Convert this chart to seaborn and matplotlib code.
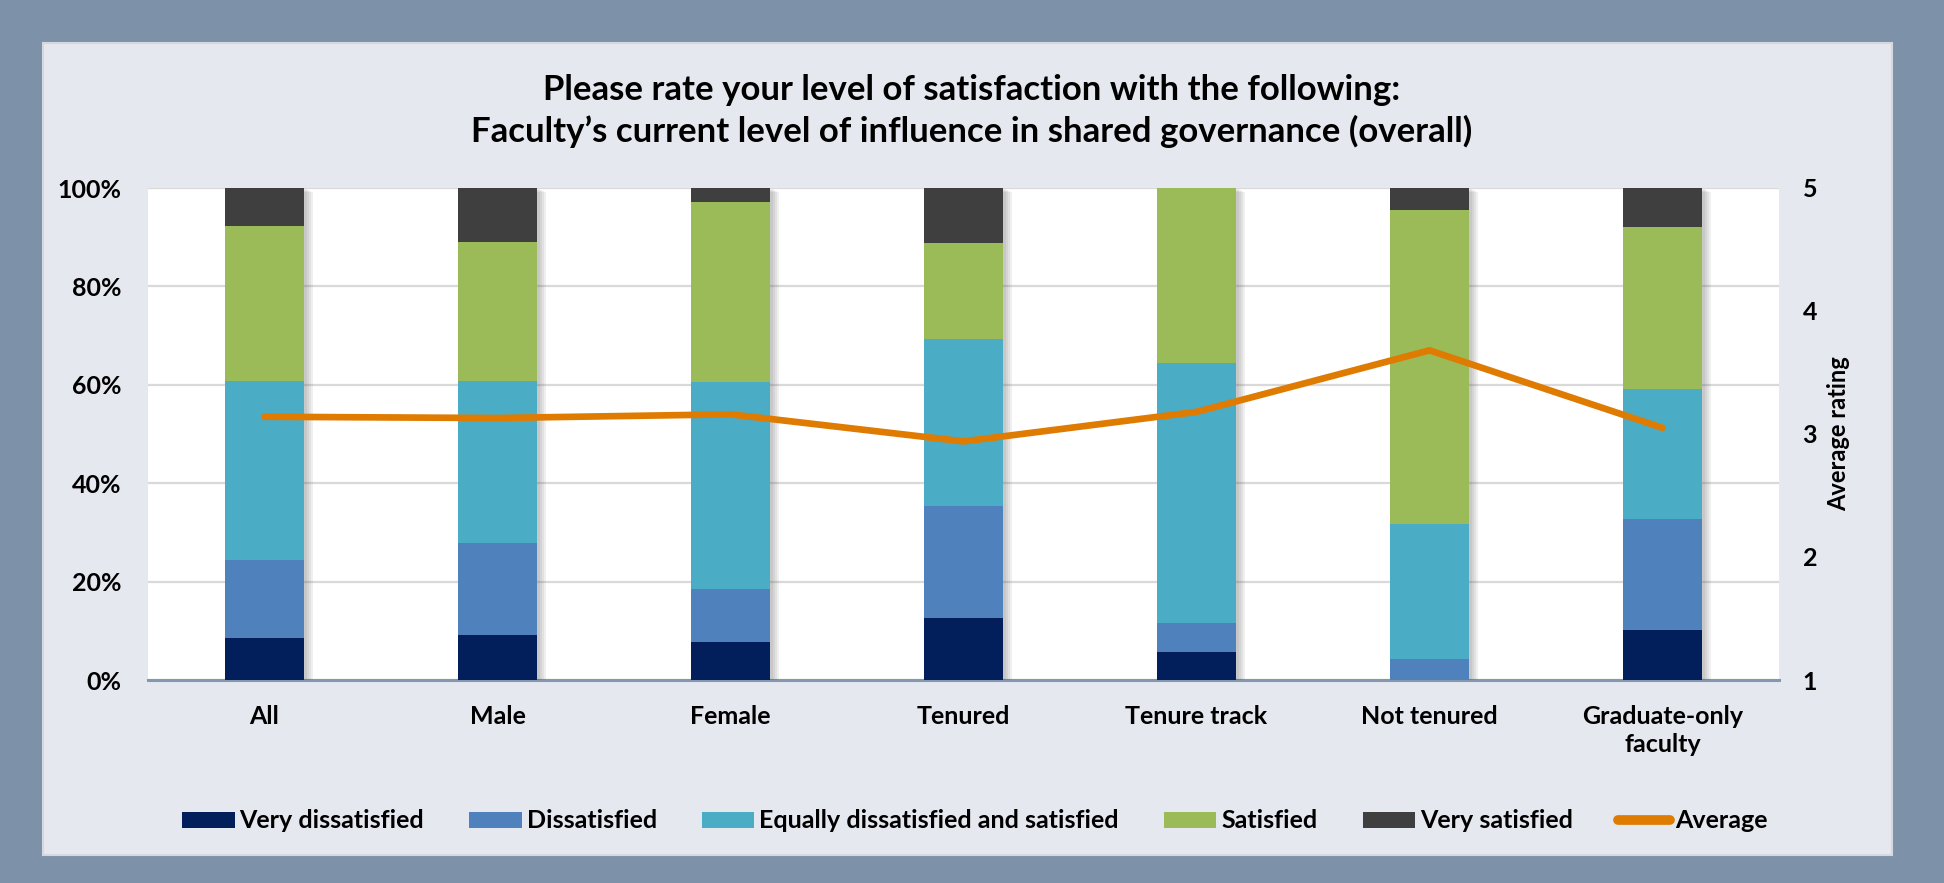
import numpy as np
import pandas as pd
import matplotlib
matplotlib.use("Agg")
import matplotlib.pyplot as plt
import matplotlib.patheffects as pe
from matplotlib.patches import Rectangle, Patch
from matplotlib.lines import Line2D
import seaborn as sns

categories = ["All", "Male", "Female", "Tenured", "Tenure track", "Not tenured", "Graduate-only\nfaculty"]
very_dissatisfied = [8.5, 9.1, 7.8, 12.7, 5.6, 0.0, 10.2]
dissatisfied = [15.8, 18.8, 10.6, 22.6, 5.9, 4.3, 22.5]
equally = [36.4, 32.9, 42.1, 34.0, 53.0, 27.4, 26.4]
satisfied = [31.5, 28.3, 36.7, 19.5, 35.5, 63.8, 33.0]
very_satisfied = [7.8, 10.9, 2.8, 11.2, 0.0, 4.5, 7.9]
average = [3.14, 3.13, 3.16, 2.94, 3.18, 3.68, 3.05]

series_names = ["Very dissatisfied", "Dissatisfied", "Equally dissatisfied and satisfied",
                "Satisfied", "Very satisfied"]
series_vals = [very_dissatisfied, dissatisfied, equally, satisfied, very_satisfied]
colors = ["#021f5c", "#4f81bd", "#4bacc6", "#9bbb59", "#3f3f3f"]
line_color = "#df7b00"

sns.set_theme(style="white")
plt.rcParams["font.family"] = ["Lato", "DejaVu Sans"]
plt.rcParams["font.weight"] = "bold"
plt.rcParams["text.color"] = "black"
plt.rcParams["xtick.color"] = "black"
plt.rcParams["ytick.color"] = "black"
plt.rcParams["axes.labelcolor"] = "black"

fig = plt.figure(figsize=(19.44, 8.83), dpi=100)
fig.patch.set_facecolor("#7d92a9")
W, H = 1944, 883
fig.patches.append(Rectangle((43 / W, 1 - 855 / H), (1892 - 43) / W, (855 - 43) / H,
                             transform=fig.transFigure, facecolor="#e5e8ee",
                             edgecolor="#d5d9df", lw=1.5, zorder=-5))

ax = fig.add_axes([148 / W, 1 - 680 / H, (1779 - 148) / W, (680 - 188) / H])
ax.set_facecolor("white")

cum = np.cumsum(np.array(series_vals), axis=0)
df = pd.DataFrame({"cat": categories})
shadow = [pe.SimplePatchShadow(offset=(d, -d * 0.4), shadow_rgbFace="#555555", alpha=0.09)
          for d in (7, 5.5, 4, 2.5)] + [pe.Normal()]
for i in range(len(series_names) - 1, -1, -1):
    df["val"] = cum[i]
    sns.barplot(data=df, x="cat", y="val", color=colors[i], width=0.335, ax=ax,
                saturation=1, linewidth=0, order=categories, zorder=3)
    if i == len(series_names) - 1:
        for p in ax.patches:
            p.set_path_effects(shadow)

ax.set_ylim(0, 100)
ax.set_xlim(-0.5, len(categories) - 0.5)
ax.set_yticks(np.arange(0, 101, 20))
ax.set_yticklabels([f"{v}%" for v in range(0, 101, 20)], fontsize=18, fontweight="bold")
ax.yaxis.grid(True, color="#d9d9d9", lw=1.6, zorder=0)
ax.set_axisbelow(True)
ax.tick_params(axis="y", length=0, pad=19)
ax.tick_params(axis="x", length=0, pad=18, labelsize=18)
for lab in ax.get_xticklabels():
    lab.set_fontweight("bold")
    lab.set_linespacing(1.25)
ax.set_xlabel("")
ax.set_ylabel("")
for s in ["top", "left", "right"]:
    ax.spines[s].set_visible(False)
ax.spines["bottom"].set_color("#8497b0")
ax.spines["bottom"].set_linewidth(2.2)

ax2 = ax.twinx()
sns.lineplot(x=np.arange(len(categories)), y=average, ax=ax2, color=line_color, lw=4.8,
             solid_capstyle="round", solid_joinstyle="miter", zorder=5)
ax2.set_ylim(1, 5)
ax2.set_yticks([1, 2, 3, 4, 5])
ax2.set_yticklabels(["1", "2", "3", "4", "5"], fontsize=18, fontweight="bold")
ax2.tick_params(axis="y", length=0, pad=17)
ax2.set_ylabel("Average rating", fontsize=17, fontweight="bold", labelpad=7)
for s in ax2.spines.values():
    s.set_visible(False)

fig.text(972 / W, 1 - 90 / H, "Please rate your level of satisfaction with the following:",
         ha="center", va="center", fontsize=25, fontweight="bold")
fig.text(972 / W, 1 - 131 / H, "Faculty\u2019s current level of influence in shared governance (overall)",
         ha="center", va="center", fontsize=25, fontweight="bold")

handles = [Patch(facecolor=c, edgecolor="none") for c in colors]
handles.append(Line2D([0], [0], color=line_color, lw=7, solid_capstyle="round"))
labels = series_names + ["Average"]
leg = fig.legend(handles, labels, loc="center", bbox_to_anchor=(975 / W, 1 - 821 / H), ncol=6,
                 frameon=False, fontsize=18, handlelength=2.1, handleheight=0.6,
                 handletextpad=0.2, columnspacing=1.8)
for t in leg.get_texts():
    t.set_fontweight("bold")

fig.savefig("out.png", dpi=100, facecolor=fig.get_facecolor())
